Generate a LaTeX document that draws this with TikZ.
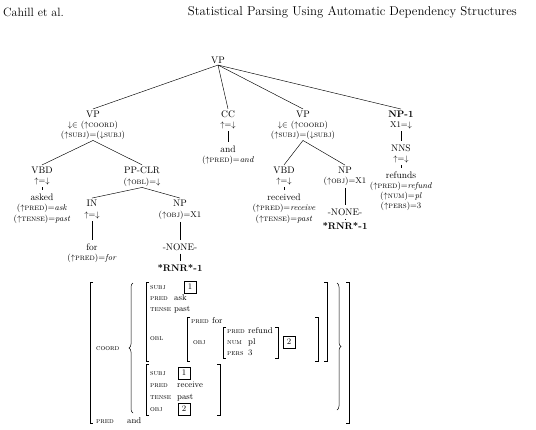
\documentclass[tikz,border=0pt]{standalone}
\usetikzlibrary{decorations.pathreplacing}
\newcommand{\lfgup}{\ensuremath{\uparrow}}
\newcommand{\lfgdn}{\ensuremath{\downarrow}}
\tikzset{
  lfg head/.style={font=\fontsize{12}{13}\selectfont, inner sep=0pt},
  lfg cat/.style={font=\fontsize{9.5}{10}\selectfont, inner sep=1.5pt},
  lfg ann/.style={font=\fontsize{8.5}{9}\selectfont, inner sep=1pt},
  lfg word/.style={font=\fontsize{9.5}{10}\selectfont, inner sep=1.5pt},
  lfg edge/.style={draw=black, line width=0.45pt},
  lfg stem/.style={draw=black, line width=0.45pt, shorten <=1.5pt, shorten >=1.5pt},
  lfg attr/.style={font=\fontsize{7.5}{8}\selectfont\scshape, anchor=west, inner sep=0pt, text height=1.4ex, text depth=0.3ex},
  lfg val/.style={font=\fontsize{8.5}{9}\selectfont, anchor=west, inner sep=0pt, text height=1.4ex, text depth=0.3ex},
  lfg tag/.style={draw, line width=0.6pt, minimum size=12pt, inner sep=0pt, font=\fontsize{8.5}{9}\selectfont},
  lfg brack/.style={draw, line width=0.5pt},
  lfg brace/.style={draw, line width=0.5pt, decorate, decoration={brace, amplitude=4pt}},
}
\begin{document}
\begin{tikzpicture}[x=1pt,y=-1pt]
\useasboundingbox (0,0) rectangle (536,429);
% running head
\node[lfg head, anchor=west] (hdL) at (3,12) {Cahill et al.};
\node[lfg head, font=\fontsize{12.8}{14}\selectfont, anchor=east] (hdR) at (517,12) {Statistical Parsing Using Automatic Dependency Structures};

% c-structure
\node[lfg cat] (vp) at (218,60) {VP};
\node[lfg cat] (vpl) at (93,114) {VP};
\node[lfg ann] (vplA) at (93,125) {\lfgdn$\in$ (\lfgup\textsc{coord})};
\node[lfg ann] (vplB) at (93,135) {(\lfgup\textsc{subj})=(\lfgdn\textsc{subj})};
\node[lfg cat] (cc) at (228,114) {CC};
\node[lfg ann] (ccA) at (228,125) {\lfgup=\lfgdn};
\node[lfg word] (ccW) at (228,149) {and};
\node[lfg ann] (ccP) at (228,160) {(\lfgup\textsc{pred})=\textit{and}};
\node[lfg cat] (vpm) at (303,114) {VP};
\node[lfg ann] (vpmA) at (303,125) {\lfgdn$\in$ (\lfgup\textsc{coord})};
\node[lfg ann] (vpmB) at (303,135) {(\lfgup\textsc{subj})=(\lfgdn\textsc{subj})};
\node[lfg cat] (np1) at (401,114) {\textbf{NP-1}};
\node[lfg ann] (np1A) at (401,125) {X1=\lfgdn};
\node[lfg cat] (nns) at (401,148) {NNS};
\node[lfg ann] (nnsA) at (401,159) {\lfgup=\lfgdn};
\node[lfg word] (nnsW) at (401,175) {refunds};
\node[lfg ann] (nnsP) at (401,186) {(\lfgup\textsc{pred})=\textit{refund}};
\node[lfg ann] (nnsN) at (401,196) {(\lfgup\textsc{num})=\textit{pl}};
\node[lfg ann] (nnsR) at (401,206) {(\lfgup\textsc{pers})=3};

\node[lfg cat] (vbdl) at (42,170) {VBD};
\node[lfg ann] (vbdlA) at (42,181) {\lfgup=\lfgdn};
\node[lfg word] (vbdlW) at (42,197) {asked};
\node[lfg ann] (vbdlP) at (42,208) {(\lfgup\textsc{pred})=\textit{ask}};
\node[lfg ann] (vbdlT) at (42,219) {(\lfgup\textsc{tense})=\textit{past}};
\node[lfg cat] (pp) at (142,170) {PP-CLR};
\node[lfg ann] (ppA) at (142,182) {(\lfgup\textsc{obl})=\lfgdn};
\node[lfg cat] (in) at (92,203) {IN};
\node[lfg ann] (inA) at (92,215) {\lfgup=\lfgdn};
\node[lfg word] (inW) at (92,247) {for};
\node[lfg ann] (inP) at (92,258) {(\lfgup\textsc{pred})=\textit{for}};
\node[lfg cat] (np) at (180,203) {NP};
\node[lfg ann] (npA) at (180,215) {(\lfgup\textsc{obj})=X1};
\node[lfg word] (npN) at (180,247) {-NONE-};
\node[lfg word] (npR) at (180,268) {\textbf{*RNR*-1}};

\node[lfg cat] (vbdm) at (284,170) {VBD};
\node[lfg ann] (vbdmA) at (284,181) {\lfgup=\lfgdn};
\node[lfg word] (vbdmW) at (284,197) {received};
\node[lfg ann] (vbdmP) at (284,208) {(\lfgup\textsc{pred})=\textit{receive}};
\node[lfg ann] (vbdmT) at (284,219) {(\lfgup\textsc{tense})=\textit{past}};
\node[lfg cat] (npm) at (345,170) {NP};
\node[lfg ann] (npmA) at (345,181) {(\lfgup\textsc{obj})=X1};
\node[lfg word] (npmN) at (345,212) {-NONE-};
\node[lfg word] (npmR) at (345,226) {\textbf{*RNR*-1}};

\foreach \a/\b in {vp/vpl,vp/cc,vp/vpm,vp/np1,vplB/vbdl,vplB/pp,ppA/in,ppA/np,vpmB/vbdm,vpmB/npm}
  \draw[lfg edge] (\a.south) -- (\b.north);
\foreach \a/\b in {ccA/ccW,np1A/nns,nnsA/nnsW,vbdlA/vbdlW,inA/inW,npA/npN,npN/npR,vbdmA/vbdmW,npmA/npmN,npmN/npmR}
  \draw[lfg stem] (\a.south) -- (\b.north);

% f-structure
\foreach \x/\t/\b in {90/282/423,146/282/361,146/364/415,187/317/361,223/327/358}
  \draw[lfg brack] (\x+3,\t) -| (\x,\b) -- ++(3,0);
\foreach \x/\t/\b in {349/282/423,327/282/361,220/364/415,318/317/361,278/327/358}
  \draw[lfg brack] (\x-3,\t) -| (\x,\b) -- ++(-3,0);
\draw[lfg brace] (133,413) -- (133,283);
\draw[lfg brace] (337,283) -- (337,410);

\node[lfg attr] (coord) at (96,348) {coord};
\node[lfg attr] (predO) at (96,421) {pred};
\node[lfg val] (andO) at (127,421) {and};

\node[lfg attr] (subjA) at (150,287) {subj};
\node[lfg tag] (tagA) at (190,287) {1};
\node[lfg attr] (predA) at (150,298) {pred};
\node[lfg val] (askA) at (174,298) {ask};
\node[lfg attr] (tenseA) at (150,309) {tense};
\node[lfg val] (pastA) at (174,309) {past};
\node[lfg attr] (obl) at (150,338) {obl};
\node[lfg attr] (predP) at (191,321) {pred};
\node[lfg val] (forP) at (212,321) {for};
\node[lfg attr] (objP) at (193,342) {obj};
\node[lfg attr] (predN) at (227,331) {pred};
\node[lfg val] (refN) at (248,331) {refund};
\node[lfg attr] (numN) at (227,342) {num};
\node[lfg val] (plN) at (248,342) {pl};
\node[lfg attr] (persN) at (227,353) {pers};
\node[lfg val] (thrN) at (248,353) {3};
\node[lfg tag] (tagB) at (289,342) {2};

\node[lfg attr] (subjB) at (150,373) {subj};
\node[lfg tag] (tagC) at (184,373) {1};
\node[lfg attr] (predB) at (150,385) {pred};
\node[lfg val] (recB) at (177,385) {receive};
\node[lfg attr] (tenseB) at (150,397) {tense};
\node[lfg val] (pastB) at (177,397) {past};
\node[lfg attr] (objB) at (150,409) {obj};
\node[lfg tag] (tagD) at (184,409) {2};
\end{tikzpicture}
\end{document}
